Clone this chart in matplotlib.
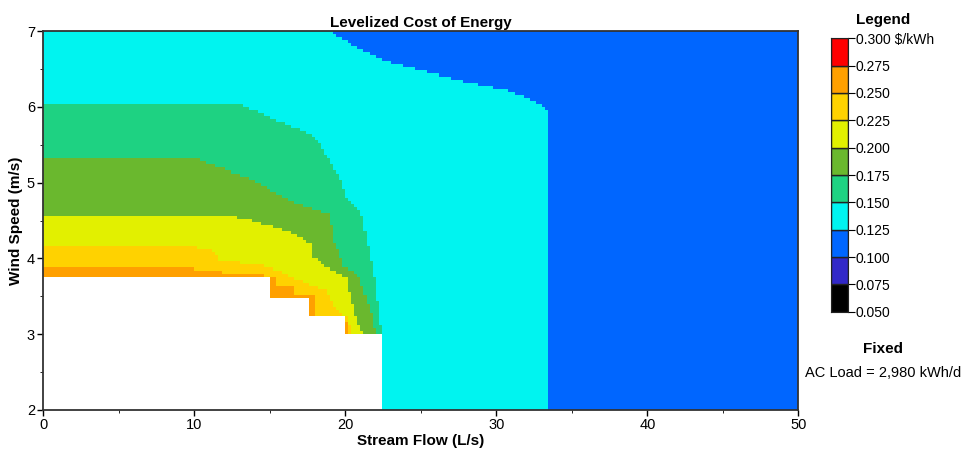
import numpy as np
import matplotlib
matplotlib.use("Agg")
import matplotlib.pyplot as plt
from matplotlib.colors import ListedColormap, BoundaryNorm

plt.rcParams['font.family'] = ['Liberation Sans', 'DejaVu Sans']

# legend levels ($/kWh) and colours
levels = [0.050, 0.075, 0.100, 0.125, 0.150, 0.175, 0.200, 0.225, 0.250, 0.275, 0.300]
colors = ['#000000', '#3228C8', '#0066FF', '#00F4F0', '#1ED282',
          '#6AB82E', '#E2F000', '#FFD200', '#FFA000', '#FF0000']

# band edges: for each threshold, wind speed (m/s) vs the
# stream flow (L/s) below which the LCOE is at or above that threshold
edge_125_wind = [2.0, 5.90, 6.00, 6.09, 6.22, 6.33, 6.46, 6.59, 6.79, 7.0]
edge_125_flow = [33.4, 33.4, 33.2, 32.3, 30.75, 28.1, 25.4, 22.8, 20.7, 19.0]

edge_150_wind = [3.0, 3.22, 3.67, 3.97, 4.37, 4.63, 4.83, 5.05, 5.27, 5.49, 5.63, 5.73, 5.82, 5.96, 6.04, 6.05]
edge_150_flow = [22.45, 22.2, 22.0, 21.7, 21.3, 21.0, 20.0, 19.7, 19.0, 18.4, 17.7, 16.6, 15.5, 13.9, 13.0, 0.0]

edge_175_wind = [3.0, 3.27, 3.58, 3.80, 3.88, 4.24, 4.59, 4.72, 4.88, 5.05, 5.14, 5.23, 5.29, 5.32, 5.34]
edge_175_flow = [22.0, 21.7, 21.2, 20.8, 19.9, 19.25, 19.0, 16.8, 15.25, 13.7, 12.4, 11.3, 10.4, 10.2, 0.0]

edge_200_wind = [3.0, 3.18, 3.49, 3.75, 3.88, 4.02, 4.19, 4.33, 4.43, 4.50, 4.55, 4.56, 4.58]
edge_200_flow = [21.2, 20.8, 20.35, 20.1, 18.8, 17.9, 17.7, 16.6, 15.0, 13.8, 12.6, 12.4, 0.0]

edge_225_wind = [3.0, 3.03, 3.18, 3.36, 3.58, 3.71, 3.82, 3.88, 3.91, 3.97, 4.10, 4.14, 4.16]
edge_225_flow = [20.5, 20.5, 20.1, 19.25, 18.8, 17.0, 15.9, 15.0, 14.4, 11.7, 11.3, 10.2, 0.0]

edge_250_wind = [3.0, 3.24, 3.26, 3.50, 3.52, 3.64, 3.66, 3.77, 3.82, 3.86, 3.87]
edge_250_flow = [20.2, 20.2, 18.0, 18.0, 16.6, 16.6, 15.4, 15.4, 11.8, 10.1, 0.0]

# infeasible (white) corner: minimum wind speed for each stream-flow step
infeasible_flow = [0.0, 15.0, 17.6, 20.0, 22.5]
infeasible_wind = [3.77, 3.50, 3.25, 3.00, 2.00]

edges = [(0.125, edge_125_wind, edge_125_flow),
         (0.150, edge_150_wind, edge_150_flow),
         (0.175, edge_175_wind, edge_175_flow),
         (0.200, edge_200_wind, edge_200_flow),
         (0.225, edge_225_wind, edge_225_flow),
         (0.250, edge_250_wind, edge_250_flow)]

flow = np.arange(0, 50.0001, 0.2)
wind = np.arange(2, 7.0001, 0.04)
F, W = np.meshgrid(flow[:-1] + 0.1, wind[:-1] + 0.02)

lcoe = np.full(F.shape, 0.1125)
for lev, ew, ef in edges:
    lim = np.interp(W, ew, ef, left=ef[0], right=0.0)
    lcoe = np.where(F < lim, lcoe + 0.025, lcoe)

min_wind = np.array(infeasible_wind)[np.searchsorted(infeasible_flow, F[0], side='right') - 1]
lcoe = np.ma.masked_where(W < min_wind[None, :], lcoe)

cmap = ListedColormap(colors)
norm = BoundaryNorm(levels, cmap.N)

fig = plt.figure(figsize=(9.62, 4.5), dpi=100)
ax = fig.add_axes([0.045, 0.089, 0.785, 0.842])
ax.pcolormesh(flow, wind, lcoe, cmap=cmap, norm=norm)
ax.set_xlim(0, 50)
ax.set_ylim(2, 7)
ax.set_xticks(range(0, 51, 10))
ax.set_xticks(range(5, 50, 10), minor=True)
ax.set_yticks(range(2, 8))
ax.set_yticks(np.arange(2.5, 7, 1), minor=True)
ax.tick_params(labelsize=10.5, length=4, width=1, direction='out', pad=2)
ax.tick_params(which='minor', length=2.5)
for s in ax.spines.values():
    s.set_color('#333333')
    s.set_linewidth(1.3)
ax.set_title("Levelized Cost of Energy", fontsize=11, fontweight='bold', pad=3)
ax.set_xlabel("Stream Flow (L/s)", fontsize=11, fontweight='bold', labelpad=1)
ax.set_ylabel("Wind Speed (m/s)", fontsize=11, fontweight='bold', labelpad=3)

cax = fig.add_axes([0.8638, 0.307, 0.0172, 0.608])
for i, c in enumerate(colors):
    cax.bar(0.5, levels[i + 1] - levels[i], bottom=levels[i], width=1,
            color=c, edgecolor='#222222', linewidth=1)
cax.set_xlim(0, 1)
cax.set_ylim(levels[0], levels[-1])
cax.set_xticks([])
cax.yaxis.tick_right()
cax.set_yticks(levels)
tick_labels = ["%.3f" % v for v in levels]
tick_labels[-1] = tick_labels[-1] + " $/kWh"
cax.set_yticklabels(tick_labels)
cax.tick_params(axis='y', labelsize=10, length=5, pad=1)
for s in cax.spines.values():
    s.set_color('#222222')

fig.text(0.918, 0.955, "Legend", fontsize=11, fontweight='bold', ha='center', va='center')
fig.text(0.918, 0.224, "Fixed", fontsize=11, fontweight='bold', ha='center', va='center')
fig.text(0.918, 0.171, "AC Load = 2,980 kWh/d", fontsize=10.5, ha='center', va='center')

fig.savefig("out.png", dpi=100)
